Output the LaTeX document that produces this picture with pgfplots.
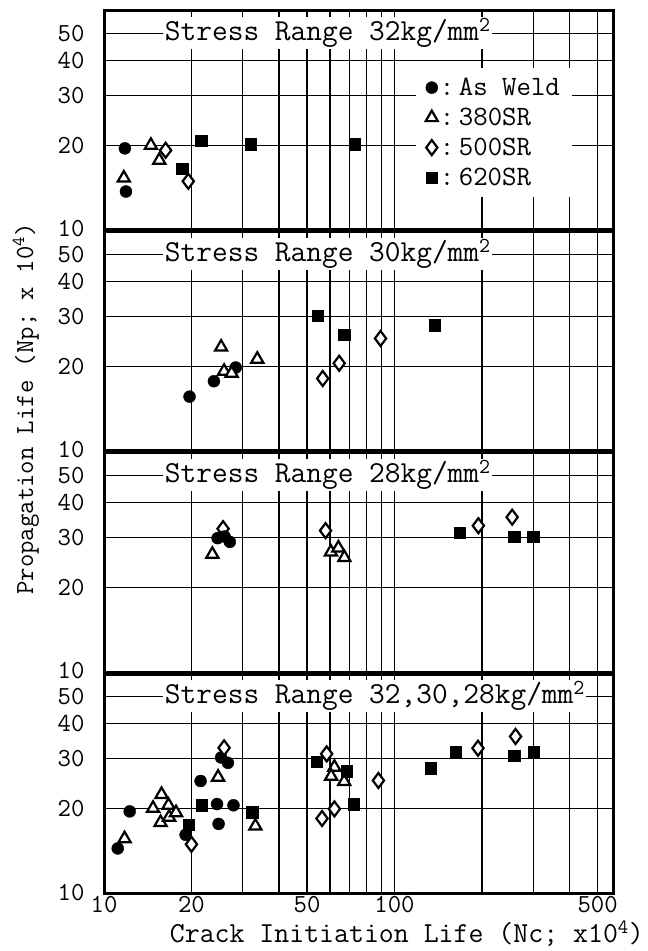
\documentclass[border=0pt]{standalone}
\usepackage{fontspec}
\usepackage{pgfplots}
\pgfplotsset{compat=1.18}
\usepgfplotslibrary{groupplots}
\newcommand{\bigtt}{\ttfamily\fontsize{28}{30}\selectfont}
\newcommand{\titt}{\ttfamily\fontsize{30.5}{32}\selectfont}
\pgfplotsset{
  panel/.style={
    xmode=log, ymode=log, xmin=10, xmax=565, ymin=10, ymax=60,
    width=509pt, height=219pt, scale only axis,
    xtick={10,20,50,100,500}, xticklabels={10,20,50,100,500},
    minor xtick={30,40,60,70,80,90,200,300,400},
    ytick={10,20,30,40,50}, yticklabels={\raisebox{3pt}{10},20,30,40,50},
    grid=both,
    major grid style={black,line width=1.2pt},
    minor grid style={black,line width=1.2pt},
    axis line style={line width=3pt},
    major tick length=0pt, minor tick length=0pt,
    tick label style={font=\ttfamily\fontsize{26}{28}\selectfont},
    yticklabel style={xshift=-16pt},
    clip=false,
  },
  aw/.style={only marks, mark=*, mark size=6pt, black},
  t3/.style={only marks, mark=triangle*, mark size=7pt, black, mark options={fill=white, line width=2.2pt}},
  d5/.style={only marks, mark=diamond*, mark size=7.5pt, black, mark options={fill=white, line width=2.2pt}},
  s6/.style={only marks, mark=square*, mark size=5.7pt, black},
}
\begin{document}
\begin{tikzpicture}
\begin{groupplot}[group style={group size=1 by 4, vertical sep=2pt, xticklabels at=edge bottom}, panel]
% ---------------- 32 kg/mm2
\nextgroupplot[legend style={at={(axis description cs:0.612,0.74)},anchor=north west,draw=none,fill=white,font=\bigtt,inner xsep=10pt,inner ysep=8pt,row sep=7pt,nodes={inner sep=2pt}},
  legend cell align=left,
  legend image code/.code={\draw[#1] plot coordinates {(0pt,0pt)};}]
\addplot[aw] coordinates {(11.8,19.5) (11.9,13.7)};
\addlegendentry{:\,As Weld}
\addplot[t3] coordinates {(11.7,15.3) (14.5,20.0) (15.5,17.7)};
\addlegendentry{:\,380SR}
\addplot[d5] coordinates {(16.3,19.2) (19.5,14.9)};
\addlegendentry{:\,500SR}
\addplot[s6] coordinates {(18.6,16.5) (21.6,20.8) (32.0,20.2) (73.0,20.2)};
\addlegendentry{:\,620SR}
\node[anchor=west,fill=white,inner sep=1.5pt,font=\titt] at (axis cs:16,50) {Stress Range 32kg/mm\textsuperscript{2}};
% ---------------- 30 kg/mm2
\nextgroupplot
\addplot[aw] coordinates {(19.7,15.6) (23.9,17.7) (28.4,19.8)};
\addplot[t3] coordinates {(25.3,23.4) (25.9,19.2) (27.5,18.9) (33.7,21.2)};
\addplot[d5] coordinates {(56.6,18.1) (64.5,20.5) (89.5,25.1)};
\addplot[s6] coordinates {(54.3,30.3) (67.2,25.9) (137.6,28.0)};
\node[anchor=west,fill=white,inner sep=1.5pt,font=\titt] at (axis cs:16,50) {Stress Range 30kg/mm\textsuperscript{2}};
% ---------------- 28 kg/mm2
\nextgroupplot
\addplot[t3] coordinates {(23.6,26.2) (60.4,26.7) (64.1,27.6) (67.2,25.5)};
\addplot[d5] coordinates {(25.7,32.3) (57.9,31.8) (194.4,33.1) (254,35.5)};
\addplot[aw] coordinates {(24.6,29.9) (26.0,30.3) (27.1,29.0)};
\addplot[s6] coordinates {(168,31.3) (258,30.3) (300,30.3)};
\node[anchor=west,fill=white,inner sep=1.5pt,font=\titt] at (axis cs:16,50) {Stress Range 28kg/mm\textsuperscript{2}};
% ---------------- all
\nextgroupplot[yticklabels={10,20,30,40,50},
  xlabel={Crack Initiation Life (Nc; x10\textsuperscript{4})},
  xlabel style={at={(axis description cs:0.595,0)}, anchor=north, yshift=-24pt, font=\ttfamily\fontsize{29}{31}\selectfont}]
\addplot[aw] coordinates {(11.15,14.4) (12.26,19.5) (19.1,16.1) (21.5,25.0) (24.5,20.7) (27.9,20.5) (24.8,17.6) (25.3,30.3) (26.7,29.0)};
\addplot[t3] coordinates {(11.77,15.6) (14.75,20.0) (15.78,22.4) (15.66,17.8) (16.67,20.5) (16.75,18.6) (17.70,19.3) (24.7,25.8) (33.2,17.3) (62.1,28.0) (60.5,26.0) (67.1,24.9)};
\addplot[d5] coordinates {(20.0,14.9) (25.9,32.8) (58.4,31.2) (88.0,25.1) (62.1,19.9) (56.3,18.4) (193.8,32.7) (261,36.0)};
\addplot[s6] coordinates {(19.6,17.5) (21.7,20.5) (32.4,19.4) (53.9,29.3) (68.3,27.1) (72.3,20.7) (133.3,27.8) (162.2,31.7) (258,30.8) (302,31.6)};
\node[anchor=west,fill=white,inner sep=1.5pt,font=\titt] at (axis cs:16,50) {Stress Range 32,30,28kg/mm\textsuperscript{2}};
\end{groupplot}
\node[rotate=90, anchor=center, font=\ttfamily\fontsize{26}{28}\selectfont] at ([xshift=-78pt,yshift=42pt]group c1r2.south west) {Propagation Life (Np; x 10\textsuperscript{4})};
\path ([xshift=-104pt,yshift=11pt]group c1r1.north west) ([xshift=27pt,yshift=-58pt]group c1r4.south east);
\end{tikzpicture}
\end{document}
